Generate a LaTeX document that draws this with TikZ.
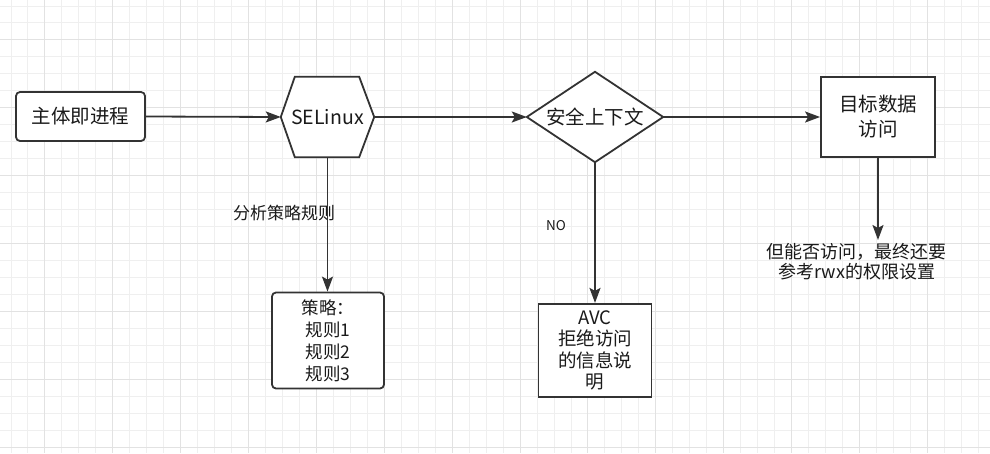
\documentclass[tikz,border=0pt]{standalone}
\usepackage{fontspec}
\setmainfont{Noto Sans CJK SC}
\usetikzlibrary{arrows.meta}
\definecolor{gridminor}{HTML}{EFEFEF}
\definecolor{gridmajor}{HTML}{E2E2E2}
\definecolor{ln}{HTML}{333333}
\definecolor{txt}{HTML}{1A1A1A}
\pgfdeclarelayer{gridlayer}
\pgfdeclarelayer{shapelayer}
\pgfsetlayers{gridlayer,shapelayer,main}
\tikzset{
  box/.style={draw=ln, line width=1.8pt, fill=white, inner sep=0pt, align=center, text=txt},
  rbox/.style={box, rounded corners=4pt},
  shp/.style={draw=ln, line width=1.8pt, fill=white, line join=miter},
  plain/.style={inner sep=0pt, align=center, text=txt},
  arr/.style={draw=ln, line width=1.8pt, -{Stealth[length=15pt,width=11pt,inset=3pt]}},
  mainfont/.style={font=\fontsize{19.5}{25}\selectfont}
}
\begin{document}
\begin{tikzpicture}[x=1pt,y=-1pt]
\useasboundingbox (0,0) rectangle (990,453);
\begin{pgfonlayer}{gridlayer}
\fill[white] (0,0) rectangle (990,453);
\foreach \i in {0,...,58} {
  \pgfmathsetmacro\xx{11+16.97*\i}
  \draw[gridminor, line width=1pt] (\xx,0) -- (\xx,453);
}
\foreach \i in {0,...,26} {
  \pgfmathsetmacro\yy{6+16.97*\i}
  \draw[gridminor, line width=1pt] (0,\yy) -- (990,\yy);
}
\foreach \j in {0,...,14} {
  \pgfmathsetmacro\xx{44.94+67.88*\j}
  \draw[gridmajor, line width=1pt] (\xx,0) -- (\xx,453);
}
\foreach \j in {0,...,6} {
  \pgfmathsetmacro\yy{39.94+67.88*\j}
  \draw[gridmajor, line width=1pt] (0,\yy) -- (990,\yy);
}
\end{pgfonlayer}

% nodes
\node[rbox, mainfont, minimum width=129pt, minimum height=49pt] (proc) at (80.5,116.5) {主体即进程};
\node[plain, mainfont, minimum width=93pt, minimum height=80pt] (hex) at (327.5,117) {SELinux};
\node[plain, mainfont, minimum width=136pt, minimum height=90pt] (dia) at (595,117) {安全上下文};
\node[box, mainfont, minimum width=114pt, minimum height=80pt] (tgt) at (878,117) {目标数据\\访问};
\node[rbox, font=\fontsize{17.5}{22}\selectfont, minimum width=112pt, minimum height=96pt] (rules) at (328,340.5) {策略：\\规则1\\规则2\\规则3};
\node[box, font=\fontsize{18.5}{21.5}\selectfont, minimum width=113pt, minimum height=93pt] (avc) at (595,350.3) {AVC\\拒绝访问\\的信息说\\明};

\begin{pgfonlayer}{shapelayer}
\draw[shp] (hex.west) -- ([xshift=14pt]hex.north west) -- ([xshift=-15pt]hex.north east) -- (hex.east)
  -- ([xshift=-15pt]hex.south east) -- ([xshift=14pt]hex.south west) -- cycle;
\draw[shp] (dia.west) -- (dia.north) -- (dia.east) -- (dia.south) -- cycle;
\end{pgfonlayer}

% labels
\node[plain, font=\fontsize{17}{20}\selectfont] (lab1) at (284,213) {分析策略规则};
\node[plain, font=\fontsize{13.5}{16}\selectfont] (lab2) at (556,225.7) {NO};
\node[plain, font=\fontsize{18}{20}\selectfont] (lab3) at (856.7,261.7) {但能否访问，最终还要\\参考rwx的权限设置};
\coordinate (tend) at (878,240);

% connectors
\draw[arr] (proc.east) -- (hex.west);
\draw[arr] (hex.east) -- (dia.west);
\draw[arr] (dia.east) -- (tgt.west);
\draw[arr] (tgt.south) -- (tend);
\draw[arr] (hex.south) -- (hex.south |- rules.north);
\draw[arr] (dia.south) -- (avc.north);
\end{tikzpicture}
\end{document}
